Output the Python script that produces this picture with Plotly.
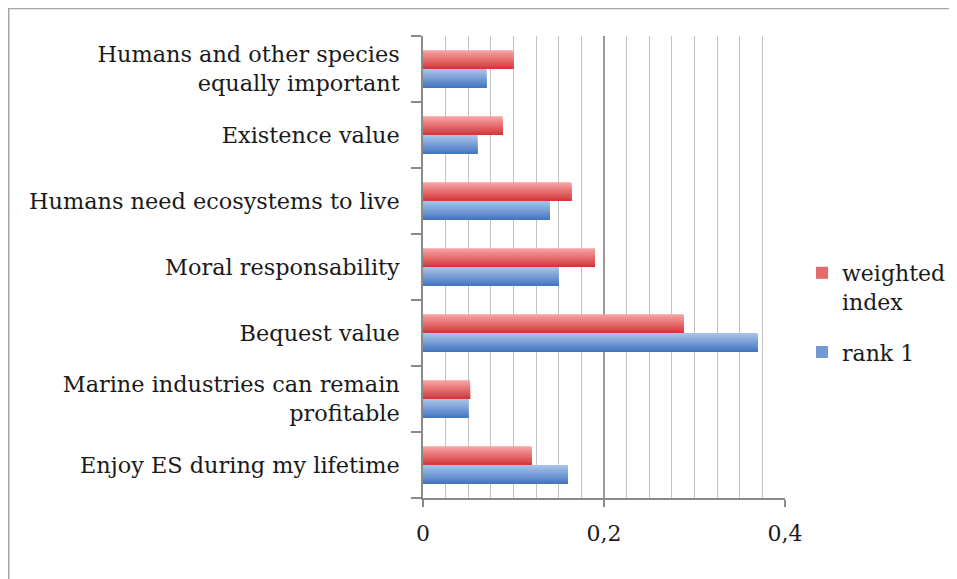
import plotly.graph_objects as go

# Data (bottom-to-top order as drawn)
categories = [
    "Enjoy ES during my lifetime",
    "Marine industries can remain<br>profitable",
    "Bequest value",
    "Moral responsability",
    "Humans need ecosystems to live",
    "Existence value",
    "Humans and other species<br>equally important",
]
weighted_index = [0.12, 0.052, 0.288, 0.19, 0.164, 0.088, 0.10]
rank_1 = [0.16, 0.05, 0.37, 0.15, 0.14, 0.06, 0.07]

FONT = "DejaVu Serif"
OFF = 8  # page body margin
W, H = 957, 579
L, R, T, B = 423 - OFF, 785 - OFF, 36 - OFF, 498 - OFF  # plot area (figure px)


def lerp(c1, c2, f):
    return "rgb(%d,%d,%d)" % tuple(round(a + (b - a) * f) for a, b in zip(c1, c2))


fig = go.Figure()

N = 14
bw = 0.285
red_top, red_bot = (246, 162, 162), (212, 58, 60)
blue_top, blue_bot = (168, 194, 232), (70, 120, 194)

for name, vals, top, bot, sign in [
    ("weighted<br>index", weighted_index, red_top, red_bot, 1),
    ("rank 1", rank_1, blue_top, blue_bot, -1),
]:
    for i in range(N):
        f = i / (N - 1)
        sw = bw / N
        width = bw - i * sw
        off = 0 if sign > 0 else -bw
        fig.add_trace(go.Bar(
            y=categories, x=vals, orientation="h",
            offset=off, width=width,
            marker=dict(color=lerp(top, bot, f), line=dict(width=0)),
            name=name, legendgroup=name,
            showlegend=(i == N // 2),
            hoverinfo="x+y",
        ))

px = lambda x: (x - L) / (R - L)
py = lambda y: (B - y) / (B - T)

fig.add_shape(type="rect", xref="paper", yref="paper",
              x0=px(0.75), x1=px(1100), y0=py(700), y1=py(0.5),
              line=dict(color="#a6a6a6", width=1.5), fillcolor="rgba(0,0,0,0)",
              layer="below")

fig.update_layout(
    width=W, height=H,
    margin=dict(l=L, r=W - R, t=T, b=H - B, pad=0),
    paper_bgcolor="white", plot_bgcolor="white",
    barmode="overlay",
    separators=", ",
    font=dict(family=FONT, size=22, color="#1a1a1a"),
    showlegend=True,
    legend=dict(
        x=px(802 - OFF), y=py(252 - OFF), xanchor="left", yanchor="top",
        traceorder="grouped", valign="top",
        font=dict(family=FONT, size=22, color="#1a1a1a"),
        itemwidth=30, tracegroupgap=19, bgcolor="rgba(0,0,0,0)",
    ),
    xaxis=dict(
        range=[0, 0.4], dtick=0.2, tick0=0, tickformat=".1~f",
        showgrid=True, gridcolor="#9a9a9a", gridwidth=1.5,
        minor=dict(dtick=0.025, showgrid=True, gridcolor="#c2c2c6", gridwidth=1.3),
        ticks="outside", ticklen=7, tickcolor="#8a8a8a", tickwidth=1.5,
        showline=True, linecolor="#8a8a8a", linewidth=1.5,
        zeroline=False, ticklabelstandoff=8,
        tickfont=dict(family=FONT, size=22, color="#1a1a1a"),
        fixedrange=True,
    ),
    yaxis=dict(
        type="category", categoryorder="array", categoryarray=categories,
        tickson="boundaries", ticks="outside", ticklen=10,
        tickcolor="#8a8a8a", tickwidth=1.5,
        showline=True, linecolor="#8a8a8a", linewidth=1.5,
        showgrid=False, ticklabelstandoff=17,
        tickfont=dict(family=FONT, size=22.4, color="#1a1a1a"),
        fixedrange=True,
    ),
)

fig.write_html("out.html")
